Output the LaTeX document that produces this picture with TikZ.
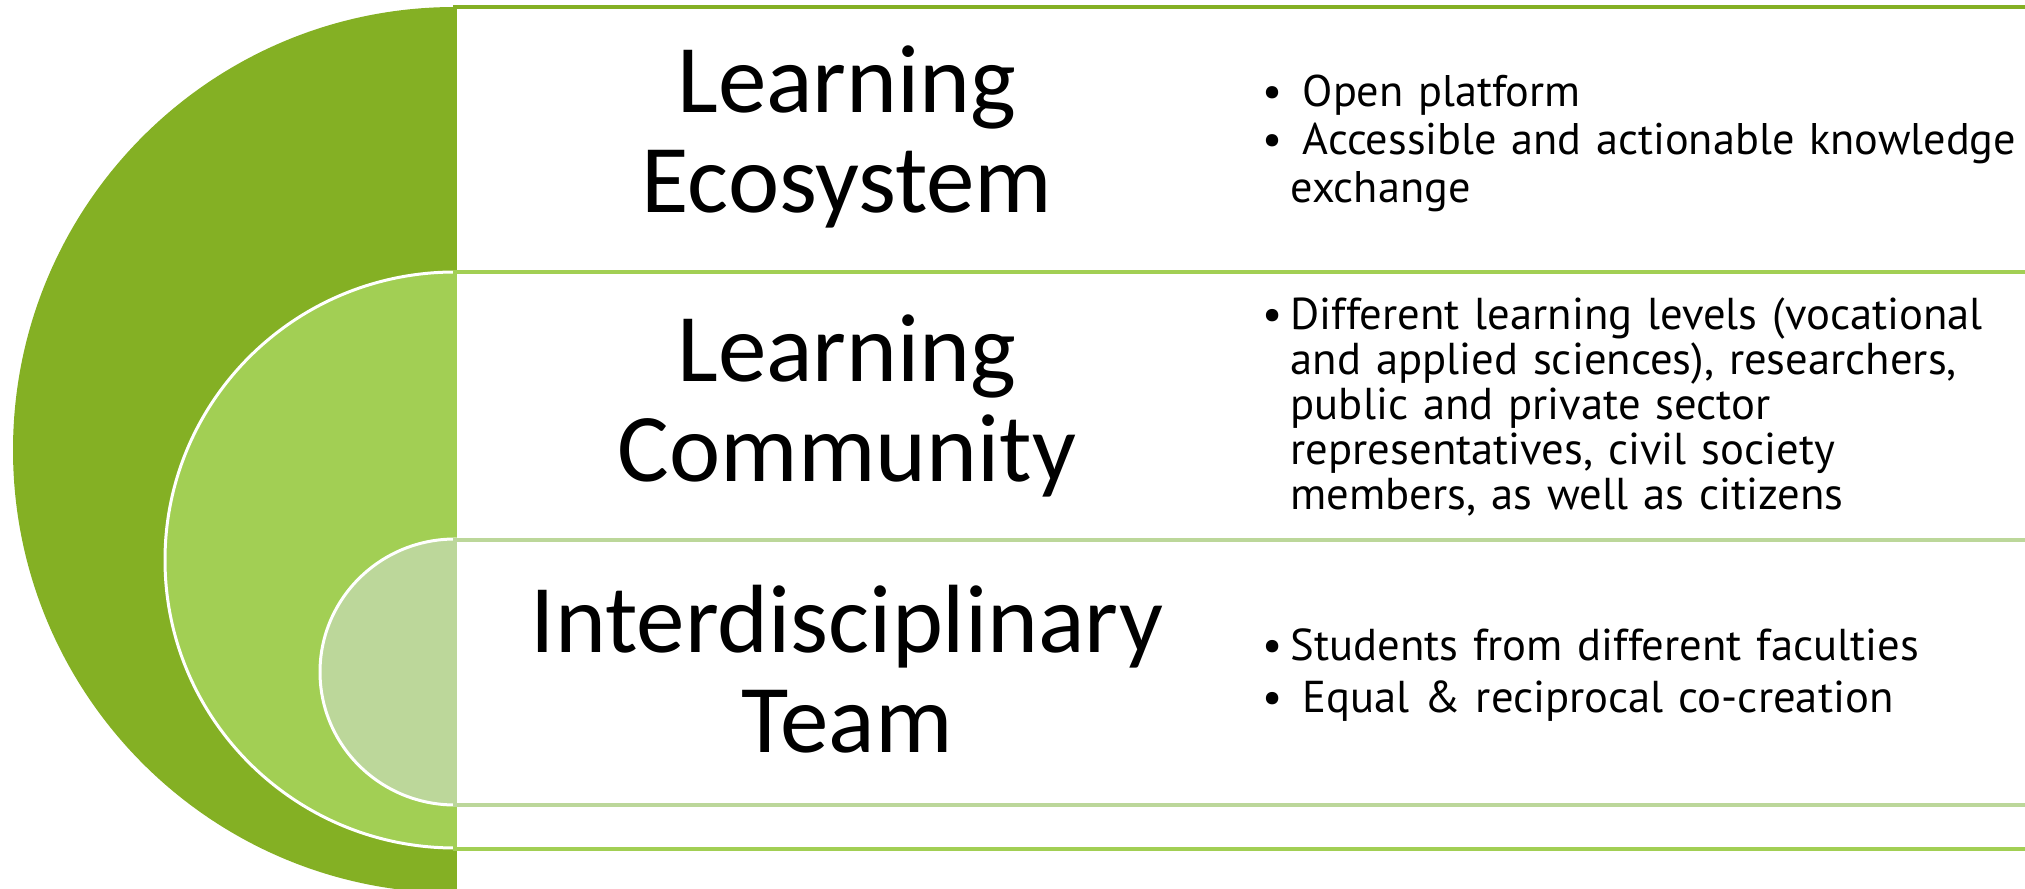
\documentclass[tikz,border=0pt]{standalone}
\usepackage{fontspec}
\setmainfont{Carlito}
\newfontfamily\listfont{PT Sans}
\definecolor{leafdark}{RGB}{132,176,36}
\definecolor{leafmid}{RGB}{162,207,84}
\definecolor{leafpale}{RGB}{188,215,154}
% one bullet point with a hanging indent; optional arg is extra space after the dot
\newcommand{\dotitem}[2][0mm]{\par\hangindent=2.8mm\hangafter=1\noindent\makebox[2.8mm][l]{\textbullet}\hspace*{#1}#2\par}
\begin{document}
\begin{tikzpicture}[x=0.1mm,y=-0.1mm]
        \tikzstyle{band}=[fill=white, line width=0.4mm]
        \tikzstyle{ring}=[draw=white, line width=0.3mm]
        \tikzstyle{title}=[align=center, font=\fontsize{27.6}{28.4}\selectfont]
        \tikzstyle{points}=[anchor=west, inner sep=0pt, text width=80mm, align=left]
        \useasboundingbox (0,0) rectangle (2025,889);
        \clip (0,0) rectangle (2025,889);

        % outer level
        \fill[leafdark] (455,450) ellipse [x radius=442, y radius=443];
        \path[band, draw=leafdark] (455,7) rectangle (2040,893);
        % middle level
        \path[ring, fill=leafmid] (455,560) ellipse [x radius=290, y radius=288];
        \path[band, draw=leafmid] (455,272) rectangle (2040,849);
        % inner level
        \path[ring, fill=leafpale] (455,672) ellipse [x radius=135, y radius=133];
        \path[band, draw=leafpale] (455,540) rectangle (2040,805);

        \node[title] (eco) at (847,137) {Learning\\Ecosystem};
        \node[title] (comm) at (847,406) {Learning\\Community};
        \node[title] (team) at (847,669) {Interdisciplinary\\Team};

        \node[points, font=\listfont\fontsize{12.6}{13.7}\selectfont] (ecoList) at (1262,135)
            {\dotitem[1.2mm]{Open platform}
             \dotitem[1.2mm]{Accessible and actionable knowledge\newline exchange}};
        \node[points, font=\listfont\fontsize{12.7}{12.8}\selectfont] (commList) at (1262,400)
            {\dotitem{Different learning levels (vocational\newline and applied sciences), researchers,\newline public and private sector\newline representatives, civil society\newline members, as well as citizens}};
        \node[points, font=\listfont\fontsize{12.7}{14.7}\selectfont] (teamList) at (1262,665)
            {\dotitem{Students from different faculties}
             \dotitem[1.2mm]{Equal \& reciprocal co-creation}};
\end{tikzpicture}
\end{document}
